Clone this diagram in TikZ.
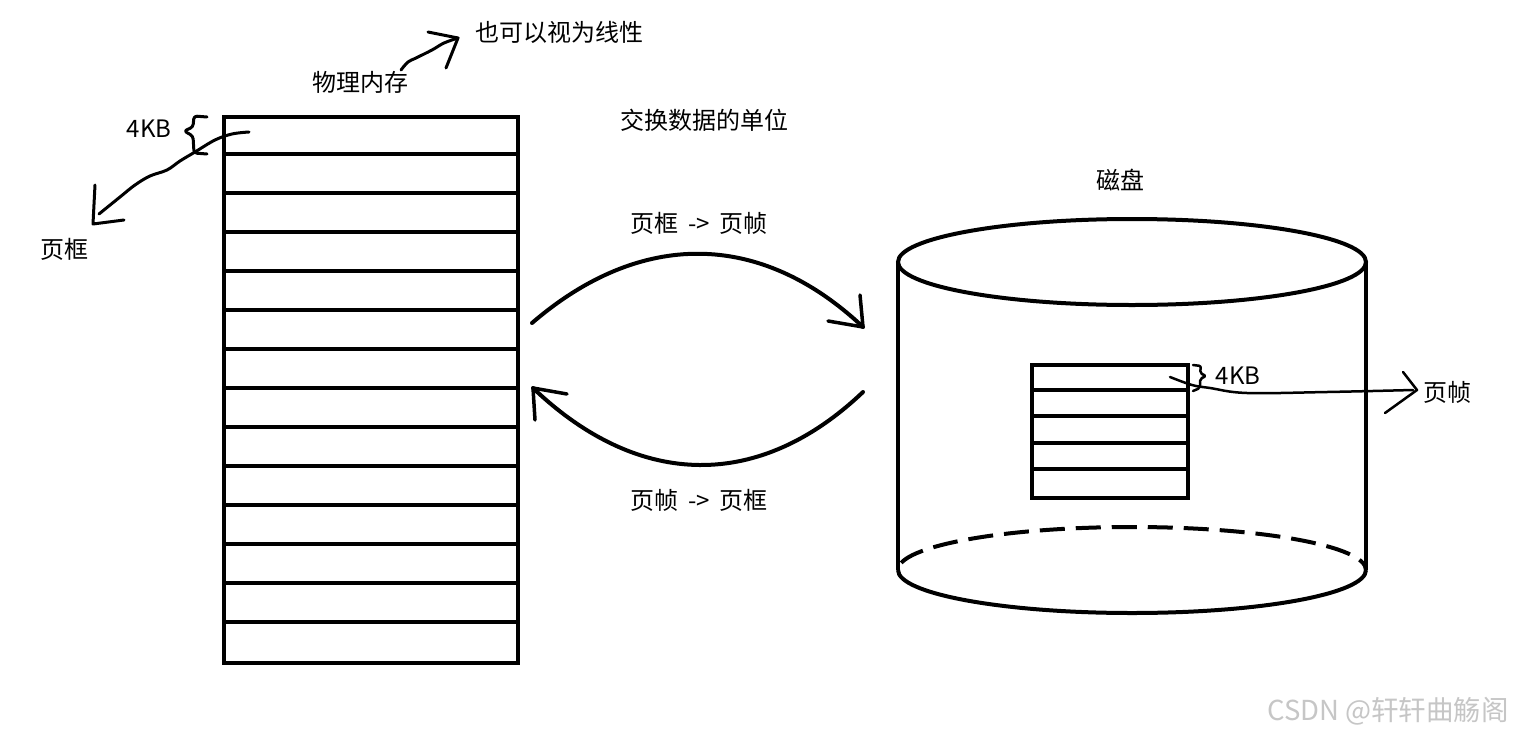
\documentclass[tikz,border=0pt]{standalone}
\usepackage{fontspec}
\setmainfont{Noto Sans CJK SC}
\begin{document}
\begin{tikzpicture}[x=1pt,y=-1pt,
  box/.style={draw,line width=4pt,inner sep=0pt,anchor=north west},
  rowline/.style={line width=4pt},
  hand/.style={line width=3pt,line cap=round,line join=round},
  swap/.style={line width=4pt,line cap=round},
  lbl/.style={font=\fontsize{24}{28}\selectfont,inner sep=0pt},
  wm/.style={font=\fontsize{27.5}{32}\selectfont,inner sep=0pt,text=gray!45},
]
\useasboundingbox (0,0) rectangle (1522,736);
\fill[white] (0,0) rectangle (1522,736);

% physical memory
\node[box,minimum width=294pt,minimum height=546pt] (mem) at (222,115) {};
\foreach \i in {1,...,13} \draw[rowline] (222,115+39*\i) -- (516,115+39*\i);

% disk cylinder
\draw[line width=4pt] (1132,262) ellipse [x radius=234, y radius=43];
\draw[line width=4pt] (898,262) -- (898,570);
\draw[line width=4pt] (1366,262) -- (1366,570);
\draw[line width=4pt] (898,570) arc[start angle=180,end angle=0,x radius=234,y radius=43];
\draw[line width=4pt,dash pattern=on 25pt off 11pt,dash phase=-8pt] (898,570) arc[start angle=180,end angle=360,x radius=234,y radius=43];

% pages on disk
\node[box,minimum width=156pt,minimum height=133pt] (dpg) at (1030,363) {};
\foreach \i in {1,...,4} \draw[rowline] (1030,363+26.6*\i) -- (1186,363+26.6*\i);

% labels
\node[lbl] (phys) at (360,82) {物理内存};
\node[lbl] (linear) at (559,32) {也可以视为线性};
\node[lbl] (unit) at (704,120) {交换数据的单位};
\node[lbl] (disk) at (1120,180) {磁盘};
\node[lbl] (p2f) at (699,223) {页框 \,-> \,页帧};
\node[lbl] (f2p) at (699,500) {页帧 \,-> \,页框};
\node[lbl] (kb1) at (149,129) {4KB};
\node[lbl] (pf1) at (64,249) {页框};
\node[lbl] (kb2) at (1238,376) {4KB};
\node[lbl] (pf2) at (1447,392) {页帧};
\node[wm] (wmark) at (1388,711) {CSDN @轩轩曲觞阁};

% swap arcs
\coordinate (upS) at (532,323);
\coordinate (upE) at (863,327);
\coordinate (loS) at (863,392);
\coordinate (loE) at (533,388);
\draw[swap] (upS) .. controls (640,230) and (760,230) .. (upE);
\draw[hand,line width=3.5pt] (860,295) -- (upE) -- (828,321);
\draw[swap] (loS) .. controls (760,490) and (640,490) .. (loE);
\draw[hand,line width=3.5pt] (535,420) -- (loE) -- (567,394);

% hand-drawn marks, left
\draw[hand,rounded corners=3pt] (207,117) -- (194,116) -- (193,127) -- (184,131) -- (193,136) -- (194,153) -- (207,154);
\draw[hand] plot[smooth,tension=0.6] coordinates {(249,132) (232,134) (215,140) (195,152) (180,161) (167,170) (150,176) (135,185) (120,197) (99,214)};
\draw[hand] (95,185) -- (93,224) -- (124,220);

\draw[hand] plot[smooth,tension=0.6] coordinates {(401,70) (408,62) (416,58) (432,50) (444,43) (458,38)};
\draw[hand] (428,32) -- (458,38) -- (446,68);

% hand-drawn marks, right
\draw[hand,line width=2.5pt,rounded corners=2pt] (1193,365) -- (1201,366) -- (1200,373) -- (1206,376) -- (1200,379) -- (1200,388) -- (1193,391);
\draw[hand,line width=2.5pt] plot[smooth,tension=0.6] coordinates {(1170,377) (1192,385) (1210,388) (1247,393) (1327,392) (1413,390)};
\draw[hand,line width=2.5pt] (1403,372) -- (1417,390) -- (1385,413);
\end{tikzpicture}
\end{document}
